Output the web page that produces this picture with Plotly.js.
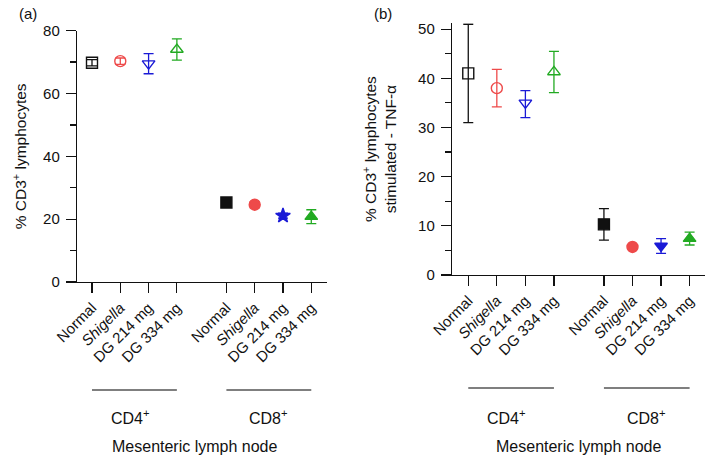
<!DOCTYPE html>
<html>
<head>
<meta charset="utf-8">
<script src="https://cdn.plot.ly/plotly-3.0.1.min.js"></script>
<style>html,body{margin:0;padding:0;background:#fff}#chart{width:709px;height:456px}</style>
</head>
<body>
<div id="chart"></div>
<script>
// ---- data ----
var conditions = ['Normal', 'Shigella', 'DG 214 mg', 'DG 334 mg'];
var tickLabels = ['Normal', '<i>Shigella</i>', 'DG 214 mg', 'DG 334 mg'];
var groups = ['CD4<sup>+</sup>', 'CD8<sup>+</sup>'];
var colors = ['#111111', '#ee4a4a', '#1a1ad6', '#22aa22'];

// panel (a): % CD3+ lymphocytes
var cd4A = [69.8, 70.3, 69.5, 74.0];
var cd4AErr = [1.0, 1.0, 3.2, 3.4];
var cd8A = [25.3, 24.6, 21.1, 20.8];
var cd8AErr = [1.0, 1.0, 0.8, 2.2];

// panel (b): % CD3+ lymphocytes stimulated - TNF-alpha
var cd4B = [41.0, 38.0, 35.0, 41.3];
var cd4BErrPlus = [10.0, 3.8, 2.5, 4.2];
var cd4BErrMinus = [10.0, 3.8, 3.0, 4.2];
var cd8B = [10.3, 5.7, 5.9, 7.4];
var cd8BErr = [3.2, 0.4, 1.5, 1.3];

var symbolsA = [['square-open', 'square'], ['circle-open', 'circle'], ['triangle-down-open', 'star'], ['triangle-up-open', 'triangle-up']];
var symbolsB = [['square-open', 'square'], ['circle-open', 'circle'], ['triangle-down-open', 'triangle-down'], ['triangle-up-open', 'triangle-up']];

// ---- build ----
var GROUP_GAP = 4.75;
function xpos(g, i) { return g * GROUP_GAP + i; }
var tickVals = [], tickText = [];
for (var g = 0; g < 2; g++) for (var i = 0; i < 4; i++) { tickVals.push(xpos(g, i)); tickText.push(tickLabels[i]); }

var traces = [];
for (var i = 0; i < 4; i++) {
  traces.push({
    type: 'scatter', mode: 'markers', xaxis: 'x', yaxis: 'y', name: conditions[i], showlegend: false,
    x: [xpos(0, i), xpos(1, i)], y: [cd4A[i], cd8A[i]],
    error_y: { type: 'data', array: [cd4AErr[i], cd8AErr[i]], color: colors[i], thickness: 1.3, width: 5 },
    marker: { symbol: symbolsA[i], size: 11, color: colors[i], line: { color: colors[i], width: 1.4 } }
  });
  traces.push({
    type: 'scatter', mode: 'markers', xaxis: 'x2', yaxis: 'y2', name: conditions[i], showlegend: false,
    x: [xpos(0, i), xpos(1, i)], y: [cd4B[i], cd8B[i]],
    error_y: { type: 'data', symmetric: false, array: [cd4BErrPlus[i], cd8BErr[i]], arrayminus: [cd4BErrMinus[i], cd8BErr[i]], color: colors[i], thickness: 1.3, width: 5 },
    marker: { symbol: symbolsB[i], size: 11, color: colors[i], line: { color: colors[i], width: 1.4 } }
  });
}

var fontFam = 'Liberation Sans, Arial, Helvetica, sans-serif';
var xCommon = {
  tickmode: 'array', tickvals: tickVals, ticktext: tickText, tickangle: -45,
  showline: true, linecolor: '#111', linewidth: 1.2, ticks: 'outside', ticklen: 10, tickcolor: '#111', tickwidth: 1.2,
  showgrid: false, zeroline: false, tickfont: { size: 15, color: '#111' }, fixedrange: true
};
var xa = Object.assign({}, xCommon, { domain: [0.1086, 0.461], range: [-0.53, 8.3], anchor: 'y' });
var xb = Object.assign({}, xCommon, { domain: [0.6375, 0.994], range: [-0.57, 8.28], anchor: 'y2' });

var yCommon = {
  showline: true, linecolor: '#111', linewidth: 1.2, ticks: 'outside', ticklen: 10, tickcolor: '#111', tickwidth: 1.2,
  showgrid: false, zeroline: false, tickfont: { size: 15, color: '#111' }, ticklabelstandoff: 3
};
var ya = Object.assign({}, yCommon, {
  domain: [0.3816, 0.9327], range: [0, 80], dtick: 20, tick0: 0, anchor: 'x',
  minor: { dtick: 10, tick0: 0, ticks: 'outside', ticklen: 6, tickcolor: '#111', tickwidth: 1.2, showgrid: false },
  title: { text: '% CD3<sup>+</sup> lymphocytes', font: { size: 15.5, color: '#111' }, standoff: 12 }
});
var yb = Object.assign({}, yCommon, {
  domain: [0.397, 0.949], range: [0, 51.2], dtick: 10, tick0: 0, anchor: 'x2',
  minor: { dtick: 5, tick0: 0, ticks: 'outside', ticklen: 6, tickcolor: '#111', tickwidth: 1.2, showgrid: false },
  title: { text: '% CD3<sup>+</sup> lymphocytes<br>stimulated - TNF-α', font: { size: 15.5, color: '#111' }, standoff: 17 }
});

var shapes = [], annotations = [];
var panels = [{ xref: 'x', lineY: 1 - 390 / 456 }, { xref: 'x2', lineY: 1 - 388 / 456 }];
panels.forEach(function (p) {
  for (var g = 0; g < 2; g++) {
    shapes.push({ type: 'line', xref: p.xref, yref: 'paper', x0: xpos(g, 0), x1: xpos(g, 3), y0: p.lineY, y1: p.lineY, line: { color: '#000', width: 1.2 } });
    annotations.push({ xref: p.xref, yref: 'paper', xanchor: 'center', yanchor: 'middle', x: (xpos(g, 0) + xpos(g, 3)) / 2 - (g === 0 ? 0.15 : 0), y: 1 - 417 / 456, text: groups[g], showarrow: false, font: { size: 16, color: '#111' } });
  }
});
function paperNote(px, py, text, size) {
  annotations.push({ xref: 'paper', yref: 'paper', xanchor: 'center', yanchor: 'middle', x: px / 709, y: 1 - py / 456, text: text, showarrow: false, font: { size: size, color: '#111' } });
}
paperNote(195, 446, 'Mesenteric lymph node', 16);
paperNote(579, 446, 'Mesenteric lymph node', 16);
paperNote(28, 13, '(a)', 15);
paperNote(383, 13, '(b)', 15);

var layout = {
  width: 709, height: 456, margin: { l: 0, r: 0, t: 0, b: 0 },
  paper_bgcolor: '#fff', plot_bgcolor: '#fff',
  font: { family: fontFam, color: '#111' },
  showlegend: false,
  xaxis: xa, yaxis: ya, xaxis2: xb, yaxis2: yb,
  shapes: shapes, annotations: annotations
};
Plotly.newPlot('chart', traces, layout, { displayModeBar: false, staticPlot: true });
</script>
</body>
</html>
